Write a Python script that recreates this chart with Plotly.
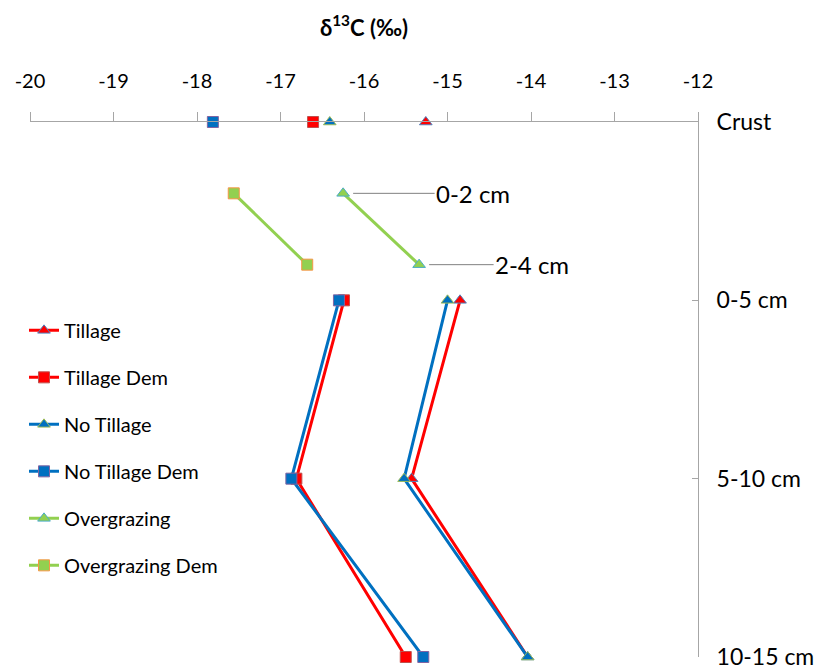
import plotly.graph_objects as go

# ---- data ----
depth_labels = ["Crust", "0-5 cm", "5-10 cm", "10-15 cm"]
depth_pos = [0, 1, 2, 3]
og_labels = ["0-2 cm", "2-4 cm"]
og_pos = [0.4, 0.8]

tillage = [-15.26, -14.85, -15.43, -14.04]
tillage_dem = [-16.61, -16.24, -16.81, -15.50]
no_tillage = [-16.41, -15.00, -15.52, -14.04]
no_tillage_dem = [-17.81, -16.30, -16.87, -15.29]
overgrazing = [-16.25, -15.34]
overgrazing_dem = [-17.56, -16.68]

x_ticks = [-20, -19, -18, -17, -16, -15, -14, -13, -12]
x_ticktext = ["-20", "-19", "-18", "-17", "-16", "-15", "-14", "-13", "-12"]

RED = "#FF0000"
BLUE = "#0070C0"
GREEN = "#92D050"
FONT = "Lato"


def gap_crust(vals, pos):
    # crust point stands alone, not joined to the profile below
    return [vals[0], None] + vals[1:], [pos[0], None] + pos[1:]


series = [
    ("Tillage", tillage, depth_pos, RED, "triangle-up", RED, "#4F81BD"),
    ("Tillage Dem", tillage_dem, depth_pos, RED, "square", RED, "#C0504D"),
    ("No Tillage", no_tillage, depth_pos, BLUE, "triangle-up", BLUE, "#9BBB59"),
    ("No Tillage Dem", no_tillage_dem, depth_pos, BLUE, "square", BLUE, "#8064A2"),
]

fig = go.Figure()
for i, (name, vals, pos, lc, sym, fc, ec) in enumerate(series):
    xs, ys = gap_crust(vals, pos)
    fig.add_trace(go.Scatter(
        x=xs, y=ys, name=name, mode="lines+markers",
        line=dict(color=lc, width=3),
        marker=dict(symbol=sym, size=11, color=fc, line=dict(color=ec, width=1)),
        legendgroup=name, cliponaxis=False, connectgaps=False,
    ))

fig.add_trace(go.Scatter(
    x=overgrazing, y=og_pos, name="Overgrazing", mode="lines+markers",
    line=dict(color=GREEN, width=3),
    marker=dict(symbol="triangle-up", size=11, color=GREEN, line=dict(color="#4BACC6", width=1)),
    legendgroup="Overgrazing", cliponaxis=False,
))
fig.add_trace(go.Scatter(
    x=overgrazing_dem, y=og_pos, name="Overgrazing Dem", mode="lines+markers",
    line=dict(color=GREEN, width=3),
    marker=dict(symbol="square", size=11, color=GREEN, line=dict(color="#F79646", width=1)),
    legendgroup="Overgrazing Dem", cliponaxis=False,
))

# leader labels for the overgrazing depths
for lbl, xv, yv, ax in zip(og_labels, overgrazing, og_pos, [130, 113]):
    fig.add_annotation(
        x=xv, y=yv, xref="x", yref="y", text=lbl,
        showarrow=True, arrowhead=0, arrowwidth=1, arrowcolor="#808080",
        ax=ax, ay=0, standoff=10,
        font=dict(family=FONT, size=24, color="black"),
    )

fig.update_layout(
    width=823, height=669,
    margin=dict(l=22, r=133, t=114, b=20, autoexpand=False),
    paper_bgcolor="white", plot_bgcolor="white",
    font=dict(family=FONT, color="black"),
    title=dict(text="<b>δ<sup>13</sup>C (‰)</b>", x=0.5, xanchor="center",
               xref="paper", y=1 - 20 / 669, yanchor="middle", yref="container",
               font=dict(family=FONT, size=22, color="black")),
    legend=dict(x=16 / 823, xref="container", xanchor="left", y=0.647, yanchor="top",
                font=dict(family=FONT, size=20, color="black"),
                traceorder="grouped", tracegroupgap=18,
                bgcolor="rgba(0,0,0,0)", itemwidth=30),
    xaxis=dict(range=[-20, -12], side="top", tickvals=x_ticks, ticktext=x_ticktext,
               ticks="outside", ticklen=9, tickcolor="#A6A6A6",
               showline=True, linecolor="#A6A6A6", linewidth=1,
               showgrid=False, zeroline=False, ticklabelstandoff=16,
               automargin=False,
               tickfont=dict(family=FONT, size=20, color="black")),
    yaxis=dict(range=[3, 0], side="right", tickvals=depth_pos, ticktext=depth_labels,
               ticks="inside", ticklen=6, tickcolor="#A6A6A6",
               showline=True, linecolor="#A6A6A6", linewidth=1,
               showgrid=False, zeroline=False, ticklabelstandoff=13,
               ticklabeloverflow="allow", automargin=False,
               tickfont=dict(family=FONT, size=23, color="black")),
)

fig.write_html("out.html")
